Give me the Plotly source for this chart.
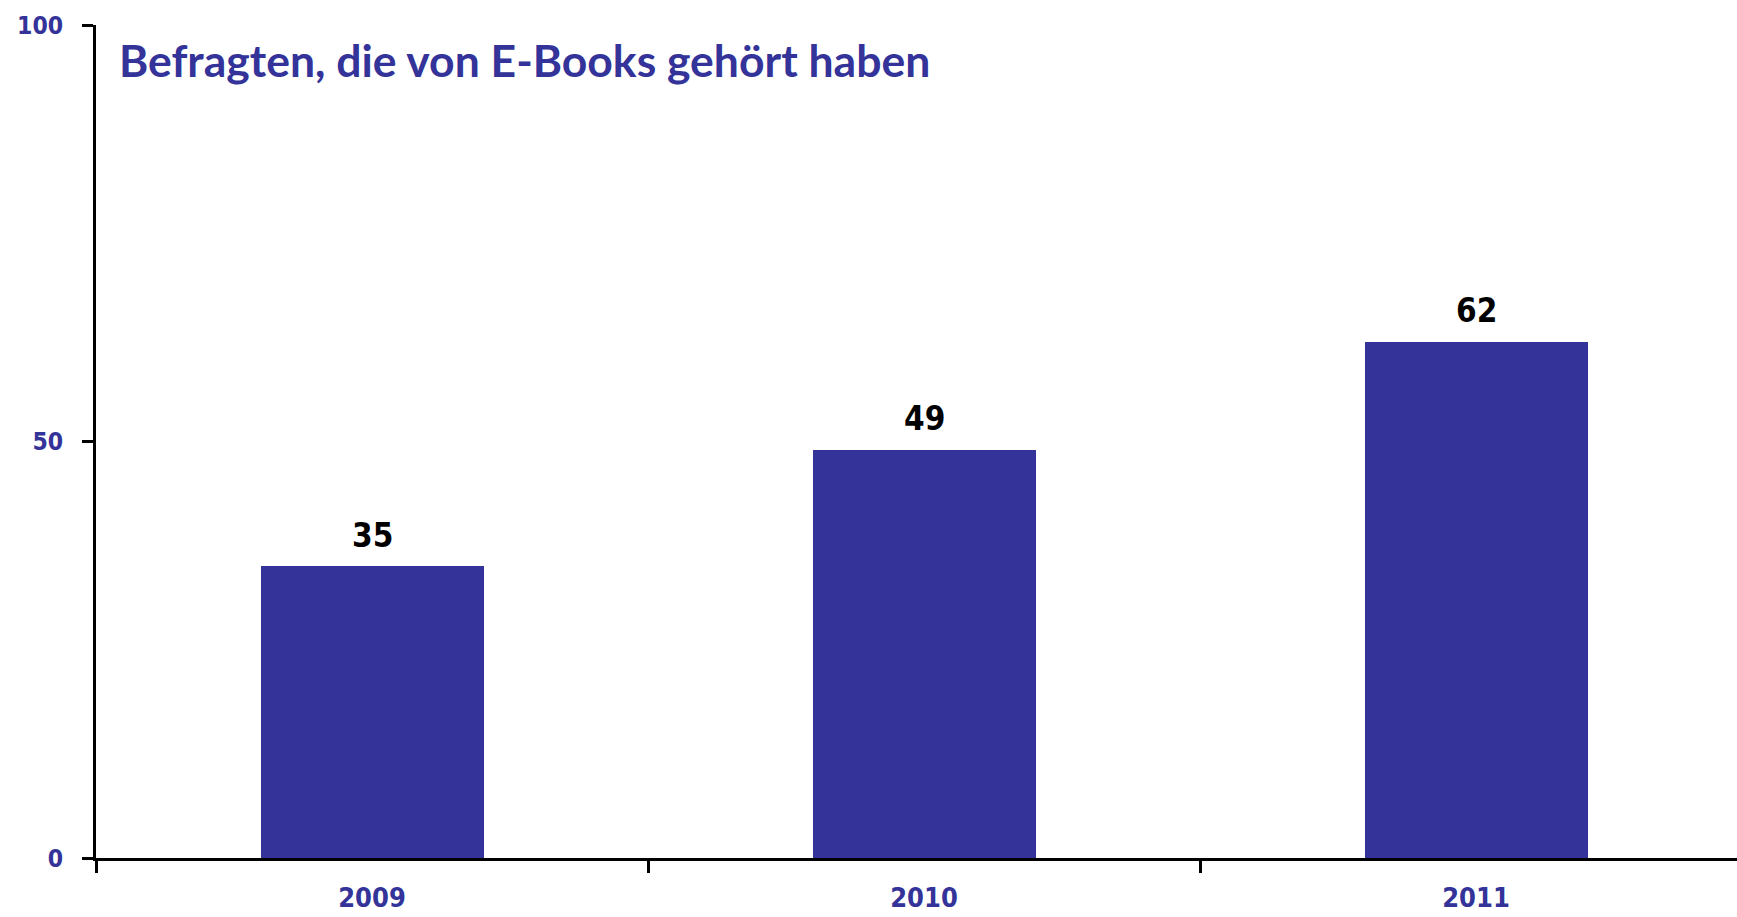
import plotly.graph_objects as go

years = ["2009", "2010", "2011"]
values = [35, 49, 62]
title_text = "Befragten, die von E-Books gehört haben"
y_ticks = [0, 50, 100]

BLUE = "#333399"
TICKFONT = "DejaVu Sans Condensed, DejaVu Sans"

fig = go.Figure()
fig.add_trace(go.Bar(
    x=years, y=values, marker=dict(color=BLUE, line=dict(width=0)),
    width=0.404, hoverinfo="skip",
))

for i, v in enumerate(values):
    fig.add_annotation(
        x=i, y=v, xref="x", yref="y", text=f"<b>{v}</b>", showarrow=False,
        yanchor="middle", yshift=31,
        font=dict(family=TICKFONT, size=33, color="black"),
    )

fig.add_annotation(
    xref="paper", yref="paper", x=0.0128, y=1 - (60 - 25) / 833,
    xanchor="left", yanchor="middle", showarrow=False,
    text=f"<b>{title_text}</b>",
    font=dict(family="Lato", size=44.5, color=BLUE),
)

fig.update_layout(
    width=1737, height=917,
    margin=dict(l=96, r=0, t=25, b=59, autoexpand=False),
    paper_bgcolor="white", plot_bgcolor="white",
    showlegend=False,
    xaxis=dict(
        type="category", range=[-0.5, -0.5 + (1737 - 96) / 552],
        showline=True, linecolor="black", linewidth=3,
        ticks="outside", tickson="boundaries", ticklen=12, tickwidth=3, tickcolor="black",
        tickfont=dict(family=TICKFONT, size=27, color=BLUE),
        ticklabelstandoff=14, automargin=False,
        tickvals=years, ticktext=[f"<b>{y}</b>" for y in years],
        showgrid=False, zeroline=False,
    ),
    yaxis=dict(
        range=[0, 100], tickvals=y_ticks, ticktext=[f"<b>{t}</b>" for t in y_ticks],
        showline=True, linecolor="black", linewidth=3,
        ticks="outside", ticklen=11, tickwidth=3, tickcolor="black",
        tickfont=dict(family=TICKFONT, size=24.5, color=BLUE),
        ticklabelstandoff=14, automargin=False,
        showgrid=False, zeroline=False,
    ),
    bargap=0,
)

fig.write_html("out.html", config={"displayModeBar": False})

with open("out.html", "r", encoding="utf-8") as f:
    html = f.read()
html = html.replace("<body>", '<body style="margin:0;overflow:hidden">', 1)
with open("out.html", "w", encoding="utf-8") as f:
    f.write(html)
